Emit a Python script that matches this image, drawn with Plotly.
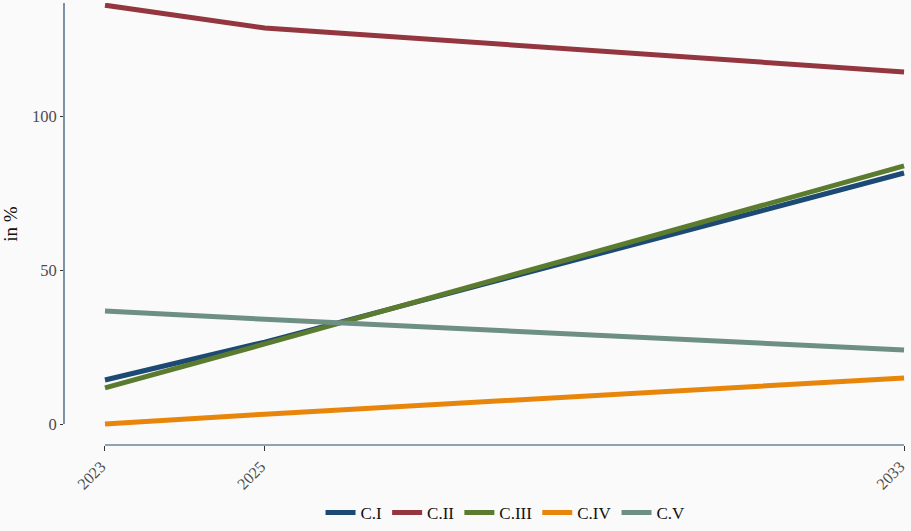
import plotly.graph_objects as go

years = [2023, 2025, 2033]
series_names = ["C.I", "C.II", "C.III", "C.IV", "C.V"]
c1 = [14.3, 26.6, 81.5]
c2 = [136.0, 128.6, 114.3]
c3 = [11.7, 26.0, 83.8]
c4 = [0.0, 3.2, 14.9]
c5 = [36.7, 34.0, 24.0]
colors = ["#1c4a74", "#93363f", "#5b7b2f", "#e8860b", "#6e8f83"]
y_ticks = [0, 50, 100]

values = [c1, c2, c3, c4, c5]
FONT = "Liberation Serif"
AXIS_COL = "#2b4a6f"
BG = "#fafafa"

fig = go.Figure()
for name, vals, col in zip(series_names, values, colors):
    fig.add_trace(go.Scatter(x=years, y=vals, mode="lines", name=name,
                             line=dict(color=col, width=5)))

y_top = 136.7
y_bot = -6.82

fig.update_layout(
    width=911, height=531,
    paper_bgcolor=BG, plot_bgcolor=BG,
    margin=dict(l=64, r=6, t=3, b=86, autoexpand=False),
    font=dict(family=FONT, size=16, color="#4d4d4d"),
    showlegend=True,
    legend=dict(orientation="h", x=0.525, xanchor="center",
                yref="container", y=0.0, yanchor="bottom",
                font=dict(family=FONT, size=17, color="#111111"),
                bgcolor="rgba(0,0,0,0)", itemwidth=30, tracegroupgap=0),
    xaxis=dict(type="linear", range=[2022.487, 2033.012], tickmode="array",
               tickvals=years, ticktext=[str(y) for y in years],
               tickangle=-45, showgrid=False, zeroline=False, showline=False,
               ticks="outside", ticklen=5, tickcolor="#333333", tickwidth=1,
               automargin=False, ticklabeloverflow="allow", ticklabelshift=-4,
               tickfont=dict(family=FONT, size=16, color="#4d4d4d")),
    yaxis=dict(type="linear", range=[y_bot, y_top], tickmode="array", tickvals=y_ticks,
               showgrid=False, zeroline=False, showline=False, ticks="outside",
               ticklen=3, tickcolor="#333333", tickwidth=1, automargin=False,
               tickfont=dict(family=FONT, size=16.5, color="#4d4d4d"),
               title=dict(text="in %", font=dict(family=FONT, size=19, color="#111111"),
                          standoff=12)),
)

# axis lines spanning only the data extent
fig.add_shape(type="line", xref="x", yref="paper", x0=years[0], x1=years[-1], y0=0, y1=0,
              line=dict(color=AXIS_COL, width=1.2))
fig.add_shape(type="line", xref="paper", yref="y", x0=0, x1=0, y0=0, y1=y_top,
              line=dict(color=AXIS_COL, width=1.2))

fig.write_html("out.html")
